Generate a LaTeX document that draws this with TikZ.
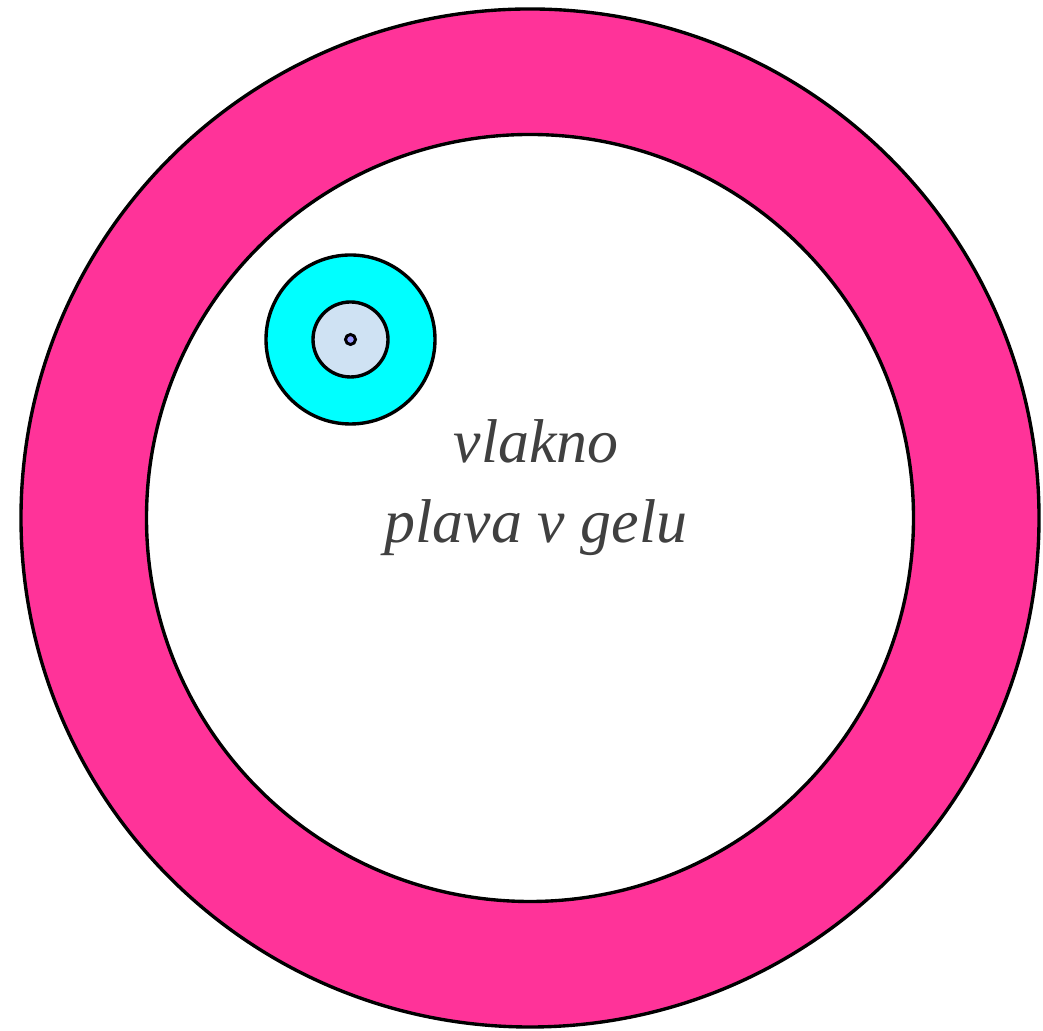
\documentclass[tikz,border=0pt]{standalone}
\usepackage{fontspec}
\setmainfont{Liberation Serif}
\newfontfamily\labelfont{Liberation Serif Italic}
\definecolor{tubepink}{HTML}{FF3399}
\definecolor{fibrecyan}{HTML}{00FFFF}
\definecolor{cladblue}{HTML}{CFE2F3}
\definecolor{coreblue}{HTML}{9999FF}
\definecolor{labelgrey}{HTML}{404040}
\begin{document}
\begin{tikzpicture}[x=0.25mm, y=0.25mm]

\useasboundingbox (0,0) rectangle (1043,1031);

% cevka
\node [draw, circle, minimum size=25.45cm, line width=2.4pt,
fill=tubepink, inner sep=0pt] (tube) at (530,513) {};

\node [draw, circle, minimum size=19.175cm, line width=2.4pt,
fill=white, inner sep=0pt] (gel) at (tube.center) {};

% vlakno
\node [draw, circle, minimum size=4.225cm, line width=2.4pt,
fill=fibrecyan, inner sep=0pt] (coat) at (350.5,691.5) {};

\node [draw, circle, minimum size=1.875cm, line width=2.4pt,
fill=cladblue, inner sep=0pt] (clad) at (coat.center) {};

\node [draw, circle, minimum size=0.25cm, line width=2.1pt,
fill=coreblue, inner sep=0pt] (core) at (coat.center) {};

\node [anchor=base, text=labelgrey, inner sep=0pt,
font={\labelfont\fontsize{44}{44}\selectfont}] (ltext) at (536,568) {vlakno};

\node [anchor=base, text=labelgrey, inner sep=0pt,
font={\labelfont\fontsize{44}{44}\selectfont}] (ltext-gel) at (536,488) {plava v gelu};

\end{tikzpicture}
\end{document}
